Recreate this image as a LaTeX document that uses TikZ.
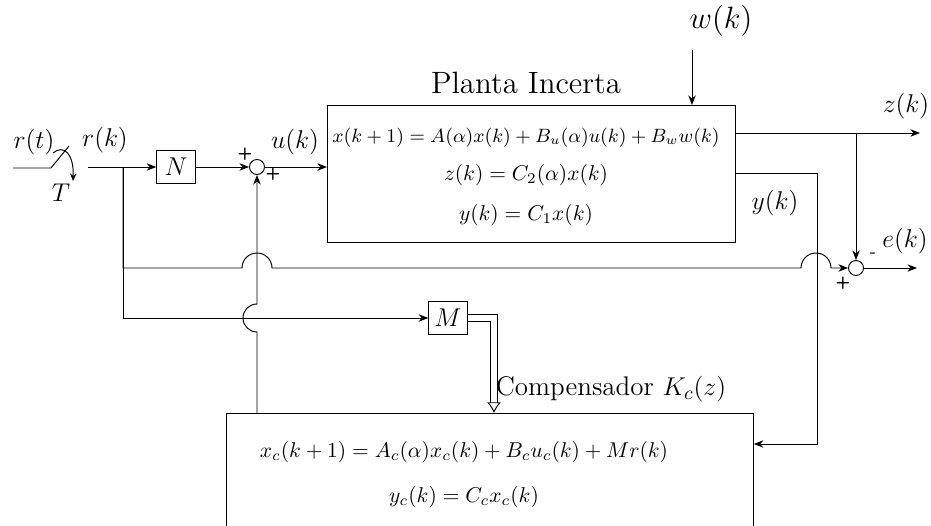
\documentclass[tikz,border=0pt]{standalone}
\usepackage{amsmath,amssymb}
\usetikzlibrary{arrows.meta,positioning,calc}

\tikzset{
  sig/.style={-{Stealth[length=4.5pt,width=3.5pt]}},
  gainbox/.style={draw, minimum width=18pt, minimum height=15.5pt, inner sep=0pt, font=\large},
  sumnode/.style={draw, circle, minimum size=7pt, inner sep=0pt},
  sgn/.style={font=\footnotesize\sffamily\bfseries, inner sep=0pt},
  sysbox/.style={draw, anchor=north west, inner sep=0pt},
  siglabel/.style={font=\fontsize{12.6}{15}\selectfont}
}

\begin{document}
\begin{tikzpicture}[x=0.467pt,y=0.467pt,line width=0.45pt]
  \useasboundingbox (0,0) rectangle (931,526);
  \clip (0,0) rectangle (931,526);

  % Sampler
  \coordinate (rin) at (13,358);
  \coordinate (swl) at (51,358);
  \coordinate (swr) at (69,380);
  \draw (rin) -- (swl) -- (swr);
  \draw[-{Stealth[length=3.5pt,width=3pt]}] (53,373) .. controls (64,382) and (74,372) .. (73,345);
  \node[siglabel] (lrt) at (34,384) {$r(t)$};
  \node[siglabel] (lT) at (61,333) {$T$};

  % Reference and gain N
  \coordinate (rk) at (88,359);
  \coordinate (rsplit) at (123,359);
  \node[siglabel] (lrk) at (105,386) {$r(k)$};
  \node[gainbox] (N) at (176,359) {$N$};
  \node[sumnode] (sum1) at (257,359) {};
  \node[sgn] at (245,372) {+};
  \node[sgn] at (273,352) {+};
  \node[siglabel] (luk) at (295,384) {$u(k)$};
  \draw[sig] (rk) -- (N.west);
  \draw[sig] (N.east) -- (sum1.west);

  % Plant box
  \node[sysbox, minimum width=190.5pt, minimum height=64pt] (plant) at (327,421) {};
  \node[font=\Large] (lplant) at (526,443) {Planta Incerta};
  \node[font=\small] (eqx) at (526,388) {$x(k+1) = A(\alpha)x(k) + B_u(\alpha)u(k) + B_w w(k)$};
  \node (eqz) at (526,351) {$z(k) = C_2(\alpha)x(k)$};
  \node (eqy) at (526,311) {$y(k) = C_1x(k)$};
  \draw[sig] (sum1.east) -- (sum1.east -| plant.west);

  % Disturbance
  \node[font=\Large] (lwk) at (721,505) {$w(k)$};
  \coordinate (win) at (692,476);
  \draw[sig] (win) -- (win |- plant.north);

  % Performance output and error
  \coordinate (zout) at (920,393);
  \coordinate (zsplit) at (856,393);
  \node[siglabel] (lzk) at (906,420) {$z(k)$};
  \draw[sig] (zout -| plant.east) -- (zout);
  \node[sumnode] (sum2) at (856,258) {};
  \node[sgn] at (873,271) {-};
  \node[sgn] at (843,243) {+};
  \coordinate (eout) at (917,258);
  \node[siglabel] (lek) at (905,285) {$e(k)$};
  \draw[sig] (zsplit) -- (sum2.north);
  \draw[sig] (sum2.east) -- (eout);

  % Compensator box
  \node[sysbox, minimum width=246pt, minimum height=70pt] (comp) at (226,113) {};
  \node[siglabel] (lcomp) at (611,137) {Compensador $K_c(z)$};
  \node (eqxc) at (464,74) {$x_c(k+1) = A_c(\alpha)x_c(k) + B_cu_c(k) + Mr(k)$};
  \node (eqyc) at (464,29) {$y_c(k) = C_cx_c(k)$};

  % Measured output
  \coordinate (ycorner) at (817,353);
  \coordinate (yin) at (817,82);
  \node[siglabel] (lyk) at (775,323) {$y(k)$};
  \draw[sig] (ycorner -| plant.east) -- (ycorner) -- (yin) -- (yin -| comp.east);

  % Gain M
  \node[gainbox] (M) at (448,208) {$M$};
  \coordinate (mdn) at (494,113);
  \draw[sig] (rsplit) |- (M.west);
  \draw[double, double distance=2.4pt, -{Latex[open,length=5pt,width=6.5pt]}] (M.east) -| (mdn);

  % Reference to error, jumping over crossings
  \draw[sig] (rsplit) |- (242,258) arc[start angle=180, end angle=0, radius=15]
    -- (801,258) arc[start angle=180, end angle=0, radius=15] -- (sum2.west);

  % Control signal back to sum
  \draw[sig] (comp.north -| sum1) -- (257,194) arc[start angle=-90, end angle=-270, radius=14]
    -- (sum1.south);
\end{tikzpicture}
\end{document}
